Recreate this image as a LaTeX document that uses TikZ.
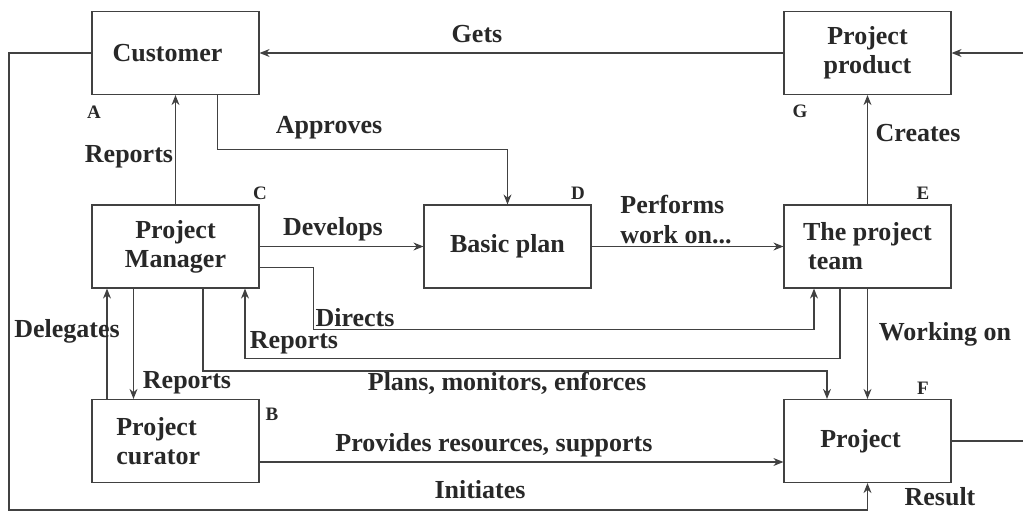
\documentclass[tikz,border=0pt]{standalone}
\usepackage{fontspec}
\setmainfont{Liberation Serif}
\usepackage{tikz}
\usetikzlibrary{arrows.meta, positioning, calc}
\definecolor{inkcolor}{RGB}{40,40,40}
\definecolor{linecolor}{RGB}{65,65,65}

\begin{document}
\begin{tikzpicture}[
    x=1pt, y=-1pt,
    block/.style={draw=linecolor, line width=1.2pt, minimum width=167pt, minimum height=83pt, inner sep=0pt, align=center, text=inkcolor, font=\bfseries\fontsize{26}{29}\selectfont},
    letter/.style={inner sep=0pt, text=inkcolor, font=\bfseries\fontsize{19}{21}\selectfont},
    lbl/.style={inner sep=0pt, text=inkcolor, font=\bfseries\fontsize{26}{30}\selectfont},
    arrow/.style={-{Stealth[length=10pt, width=8pt]}, line width=1.2pt, draw=linecolor},
    line/.style={line width=1.2pt, draw=linecolor}
]
    \useasboundingbox (0,0) rectangle (1023,512);

    % Boxes
    \node[block] (cust) at (175.5,53) {Customer\hspace*{16pt}};
    \node[block] (prod) at (867.5,53) {Project\\product};
    \node[block] (pm) at (175.5,246.5) {Project\\Manager};
    \node[block] (plan) at (507.5,246.5) {Basic plan};
    \node[block, align=left] (team) at (867.5,246.5) {The project\\\hspace*{5pt}team};
    \node[block, align=left] (cur) at (175.5,441) {Project\hspace*{38pt}\\curator};
    \node[block] (proj) at (867.5,441) {Project\hspace*{14pt}};

    % Letters
    \node[letter] (la) at (94,112) {A};
    \node[letter] (lb) at (272,414) {B};
    \node[letter] (lc) at (260,193) {C};
    \node[letter] (ld) at (578,193) {D};
    \node[letter] (le) at (923,193) {E};
    \node[letter] (lf) at (923,388) {F};
    \node[letter] (lg) at (800,111) {G};

    % Free ends and corners
    \coordinate (inprod) at (1023,53);
    \coordinate (outres) at (1023,441);
    \coordinate (corner) at (9,510);

    % Arrows
    \draw[arrow] (inprod) -- (prod);
    \draw[arrow] (prod) -- (cust);
    \draw[arrow] ([xshift=42pt]cust.south) |- ([yshift=55pt]plan.north) -- (plan.north);
    \draw[arrow] (pm.north) -- (cust.south);
    \draw[arrow] (pm) -- (plan);
    \draw[arrow] (plan) -- (team);
    \draw[arrow] (team.north) -- (prod.south);
    \draw[arrow] ([yshift=-21pt]pm.east) -| ++(54,62) -| ([xshift=-53.5pt]team.south);
    \draw[arrow] ([xshift=-27.5pt]team.south) |- ([xshift=69.5pt, yshift=-70pt]pm.south) -- ([xshift=69.5pt]pm.south);
    \draw[arrow] ([xshift=27.5pt]pm.south) |- ([xshift=-40.5pt, yshift=28pt]proj.north) -- ([xshift=-40.5pt]proj.north);
    \draw[arrow] (team.south) -- (proj.north);
    \draw[arrow] ([xshift=-42pt]pm.south) -- ([xshift=-42pt]cur.north);
    \draw[arrow] ([xshift=-68.5pt]cur.north) -- ([xshift=-68.5pt]pm.south);
    \draw[arrow] ([yshift=-21pt]cur.east) -- ([yshift=-21pt]proj.west);
    \draw[arrow] (cust.west) -| (corner) -| (proj.south);
    \draw[line] (proj) -- (outres);

    % Labels
    \node[lbl] (tgets) at (477,34) {Gets};
    \node[lbl] (tapproves) at (329,128) {Approves};
    \node[lbl] (treports) at (129,157) {Reports};
    \node[lbl] (tdevelops) at (333,229) {Develops};
    \node[lbl, align=left] (tperforms) at (676,220) {Performs\\work on...};
    \node[lbl] (tcreates) at (918,133) {Creates};
    \node[lbl] (tdirects) at (355,318) {Directs};
    \node[lbl] (treportsb) at (294,343) {Reports};
    \node[lbl] (tplans) at (507,383) {Plans, monitors, enforces};
    \node[lbl] (tworking) at (945,334) {Working on};
    \node[lbl] (treportsc) at (187,383) {Reports};
    \node[lbl] (tdelegates) at (67,331) {Delegates};
    \node[lbl] (tprovides) at (494,445) {Provides resources, supports};
    \node[lbl] (tinitiates) at (480,490) {Initiates};
    \node[lbl] (tresult) at (940,497) {Result};
\end{tikzpicture}
\end{document}
